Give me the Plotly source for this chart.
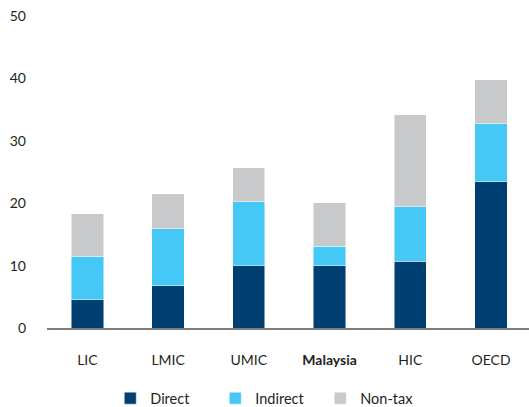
import plotly.graph_objects as go

categories = ["LIC", "LMIC", "UMIC", "Malaysia", "HIC", "OECD"]
tick_labels = ["LIC", "LMIC", "UMIC", "<b>Malaysia</b>", "HIC", "OECD"]
direct = [4.5, 6.8, 10.0, 10.0, 10.7, 23.4]
indirect = [7.0, 9.1, 10.2, 3.1, 8.7, 9.3]
nontax = [6.8, 5.6, 5.5, 7.0, 14.8, 7.1]
y_ticks = [0, 10, 20, 30, 40, 50]

colors = {"Direct": "#003F72", "Indirect": "#45C8F5", "Non-tax": "#C8C9CB"}
font_family = "Lato, 'Open Sans', sans-serif"

fig = go.Figure()
for name, vals in [("Direct", direct), ("Indirect", indirect), ("Non-tax", nontax)]:
    fig.add_trace(go.Bar(
        x=categories, y=vals, name=name,
        marker=dict(color=colors[name], line=dict(color="rgba(255,255,255,0.6)", width=0.8)),
    ))

fig.update_layout(
    barmode="stack",
    bargap=0.6,
    width=529, height=407,
    margin=dict(l=47, r=0, t=16, b=78.5, autoexpand=False),
    paper_bgcolor="white", plot_bgcolor="white",
    font=dict(family=font_family, size=14, color="#231F20"),
    showlegend=True,
    legend=dict(orientation="h", x=0.458, xanchor="center", y=-0.225, yanchor="middle",
                font=dict(size=14.5), itemwidth=30, traceorder="normal",
                entrywidth=60, entrywidthmode="pixels"),
    xaxis=dict(
        tickmode="array", tickvals=categories, ticktext=tick_labels,
        showline=True, linecolor="#7F7F7F", linewidth=2,
        ticks="", ticklabelstandoff=18, showgrid=False, automargin=False,
        range=[-0.5, 5.47],
    ),
    yaxis=dict(
        range=[0, 50], tickvals=y_ticks, showgrid=False, zeroline=False,
        showline=False, ticks="", ticklabelstandoff=20, automargin=False,
    ),
)

fig.write_html("out.html", config={"displayModeBar": False},
               post_script="document.body.style.margin='0px';")
